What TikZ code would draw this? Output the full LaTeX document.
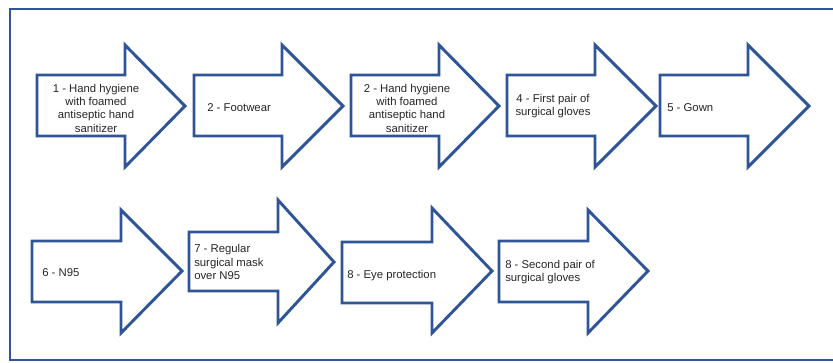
\documentclass[tikz,border=0pt]{standalone}
\usepackage{fontspec}
\setmainfont{Liberation Sans}
\definecolor{arrowblue}{RGB}{47,85,151}
\begin{document}
\begin{tikzpicture}[x=0.75pt,y=-0.75pt,
  arrowline/.style={draw=arrowblue,line width=2.2pt,line join=miter,fill=white},
  frameline/.style={draw=arrowblue,line width=2pt},
  lbl/.style={inner sep=0pt,font=\fontsize{8.5}{10}\selectfont,text=black!85}]
\useasboundingbox (0,0) rectangle (833,362);
\draw[frameline] (845,9) -- (10,9) -- (10,360) -- (845,360);
% row 1
\draw[arrowline] (37,75) -- (125,75) -- (125,45) -- (185,106) -- (125,167) -- (125,136) -- (37,136) -- cycle;
\draw[arrowline] (194,75) -- (282,75) -- (282,45) -- (343,106) -- (282,167) -- (282,136) -- (194,136) -- cycle;
\draw[arrowline] (351,75) -- (439,75) -- (439,45) -- (499,106) -- (439,167) -- (439,136) -- (351,136) -- cycle;
\draw[arrowline] (507,75) -- (595,75) -- (595,45) -- (656,106) -- (595,167) -- (595,136) -- (507,136) -- cycle;
\draw[arrowline] (660,75) -- (748,75) -- (748,45) -- (809,106) -- (748,167) -- (748,136) -- (660,136) -- cycle;
% row 2
\draw[arrowline] (32,241) -- (121,241) -- (121,210) -- (182,271) -- (121,333) -- (121,302) -- (32,302) -- cycle;
\draw[arrowline] (189,232) -- (278,232) -- (278,200) -- (334,262) -- (278,323) -- (278,291) -- (189,291) -- cycle;
\draw[arrowline] (342,242) -- (432,242) -- (432,208) -- (492,271) -- (432,333) -- (432,303) -- (342,303) -- cycle;
\draw[arrowline] (499,241) -- (588,241) -- (588,210) -- (648,271) -- (588,333) -- (588,302) -- (499,302) -- cycle;
% labels
\node[lbl,align=center] (t1) at (96,108) {1 - Hand hygiene\\with foamed\\antiseptic hand\\sanitizer};
\node[lbl,anchor=west] (t2) at (207,108) {2 - Footwear};
\node[lbl,align=center] (t3) at (407,108) {2 - Hand hygiene\\with foamed\\antiseptic hand\\sanitizer};
\node[lbl,align=center] (t4) at (553,106) {4 - First pair of\\surgical gloves};
\node[lbl,anchor=west] (t5) at (667,108) {5 - Gown};
\node[lbl,anchor=west] (t6) at (42,273) {6 - N95};
\node[lbl,anchor=west,align=left] (t7) at (194,262) {7 - Regular\\surgical mask\\over N95};
\node[lbl,anchor=west] (t8) at (347,276) {8 - Eye protection};
\node[lbl,anchor=west,align=left] (t9) at (505,272) {8 - Second pair of\\surgical gloves};
\end{tikzpicture}
\end{document}
